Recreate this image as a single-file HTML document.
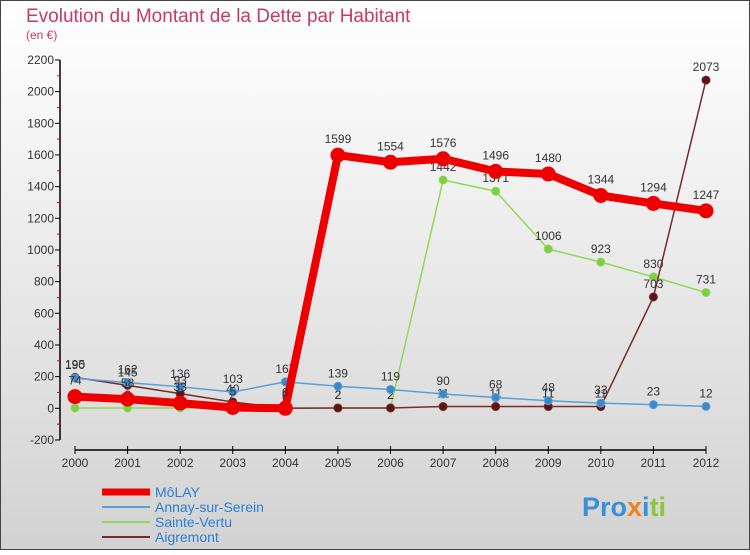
<!DOCTYPE html>
<html><head><meta charset="utf-8"><style>
body{margin:0;width:750px;height:550px;overflow:hidden;font-family:"Liberation Sans",sans-serif}
</style></head><body>
<svg width="750" height="550" xmlns="http://www.w3.org/2000/svg">
<defs><linearGradient id="bg" x1="0" y1="0" x2="0" y2="1"><stop offset="0" stop-color="#ffffff"/><stop offset="1" stop-color="#d2d2d2"/></linearGradient></defs>
<rect x="0.5" y="0.5" width="749" height="549" fill="url(#bg)" stroke="#444"/>
<text x="26" y="22" font-size="19" fill="#c8386a">Evolution du Montant de la Dette par Habitant</text>
<text x="26" y="39" font-size="12" fill="#c8386a">(en €)</text>
<g id="axes"></g><g id="series"></g>
<g>
<line x1="102" y1="492" x2="150" y2="492" stroke="#e00" stroke-width="7"/>
<text x="155" y="497" font-size="14" fill="#2a7fd4">MôLAY</text>
<line x1="102" y1="507" x2="150" y2="507" stroke="#5a9fd4" stroke-width="2"/>
<text x="155" y="512" font-size="14" fill="#2a7fd4">Annay-sur-Serein</text>
<line x1="102" y1="522" x2="150" y2="522" stroke="#8fd85a" stroke-width="2"/>
<text x="155" y="527" font-size="14" fill="#2a7fd4">Sainte-Vertu</text>
<line x1="102" y1="537" x2="150" y2="537" stroke="#7a2a2a" stroke-width="2"/>
<text x="155" y="542" font-size="14" fill="#2a7fd4">Aigremont</text>
</g>
<text x="582" y="516" font-size="27" font-weight="bold"><tspan fill="#3a8fd8">Pro</tspan><tspan fill="#f08020">x</tspan><tspan fill="#3a8fd8">i</tspan><tspan fill="#8cc63f">ti</tspan></text>
</svg>
<script>
const years=[2000,2001,2002,2003,2004,2005,2006,2007,2008,2009,2010,2011,2012];
const yTicks=[-200,0,200,400,600,800,1000,1200,1400,1600,1800,2000,2200];
const molay=[74,58,33,5,0,1599,1554,1576,1496,1480,1344,1294,1247];
const annay=[190,162,136,103,167,139,119,90,68,48,33,23,12];
const sainteVertu=[2,2,2,2,2,2,2,1442,1371,1006,923,830,731];
const aigremont=[195,145,93,40,0,2,2,11,11,11,11,703,2073];
const NS="http://www.w3.org/2000/svg";
const xs=y=>75+(y-2000)*(706-75)/12;
const ys=v=>408.3-v*380/2400;
function mk(t,a,p){const e=document.createElementNS(NS,t);for(const k in a)e.setAttribute(k,a[k]);p.appendChild(e);return e;}
const ax=document.getElementById('axes');
const yAxis=mk('line',{x1:60,y1:ys(2200),x2:60,y2:ys(-200),stroke:'#000','stroke-width':1.5},ax);


yTicks.forEach((v,i)=>{
  mk('line',{x1:55,x2:60,y1:ys(v),y2:ys(v),stroke:'#000'},ax);
  if(i<yTicks.length-1) mk('line',{x1:57,x2:60,y1:ys(v+100),y2:ys(v+100),stroke:'#e00'},ax);
  const t=mk('text',{x:54,y:ys(v)+4,'font-size':12,'text-anchor':'end',fill:'#333'},ax);t.textContent=v;
  
  
});
const xAxis=mk('line',{x1:xs(2000),y1:450,x2:xs(2012),y2:450,stroke:'#000','stroke-width':1.5},ax);


years.forEach(y=>{
  mk('line',{x1:xs(y),x2:xs(y),y1:446,y2:454,stroke:'#000'},ax);
  const t=mk('text',{x:xs(y),y:467,'font-size':12,'text-anchor':'middle',fill:'#333'},ax);t.textContent=y;
  
  
});
const sg=document.getElementById('series');
function series(name,vals,color,w,r,fill){
  const g=mk('g',{},sg);
  
  
  mk('polyline',{points:vals.map((v,i)=>xs(years[i])+','+ys(v)).join(' '),fill:'none',stroke:color,'stroke-width':w,'stroke-linejoin':'round'},g);
  vals.forEach((v,i)=>{
    const c=mk('circle',{cx:xs(years[i]),cy:ys(v),r:r,fill:fill,stroke:color,'stroke-width':1},g);
    
    
    const t=mk('text',{x:xs(years[i]),y:ys(v)-(r+5),'font-size':12,'text-anchor':'middle',fill:'#333'},g);t.textContent=v;
    
    
  });
}
series('series-sainte-vertu',sainteVertu,'#8fd85a',1.5,4,'#7cd040');
series('series-aigremont',aigremont,'#7a2a2a',1.5,4,'#5a1515');
series('series-annay',annay,'#5a9fd4',1.5,4,'#3a88cc');
series('series-molay',molay,'#ee0000',8,7,'#ee0000');
</script>
</body></html>
